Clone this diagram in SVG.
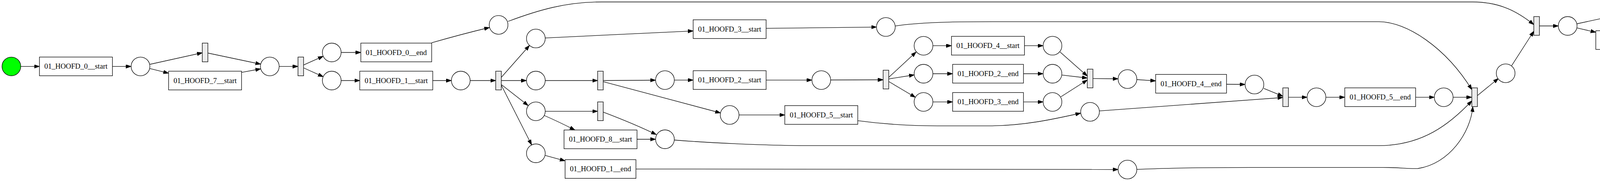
<svg xmlns="http://www.w3.org/2000/svg" width="4693" height="464" viewBox="0 0 4693 464">
<style>
.pl{fill:#fff;stroke:#000;stroke-width:1.33}
.tr{fill:#fff;stroke:#000;stroke-width:1.33}
.si{fill:#ececec;stroke:#000;stroke-width:1.33}
.lb{font-family:"Liberation Serif","Times New Roman",serif;font-size:18.67px;text-anchor:middle;fill:#000}
.e{fill:none;stroke:#000;stroke-width:1.33;marker-end:url(#ah)}
</style>
<defs>
<marker id="ah" markerUnits="userSpaceOnUse" markerWidth="14" markerHeight="10" viewBox="0 0 14 10" refX="13.33" refY="4.67" orient="auto">
<path d="M0,0 L13.33,4.67 L0,9.33 z" fill="#000" stroke="#000" stroke-width="1"/>
</marker>
</defs>
<rect width="4693" height="464" fill="#fff"/>
<g id="edges">
<path class="e" d="M53.1,170.3 L101,170.3"/>
<path class="e" d="M287.8,170.3 L335.7,170.3"/>
<path class="e" d="M383.4,165 L517.8,135.3"/>
<path class="e" d="M383.4,175.7 L431.6,187.7"/>
<path class="e" d="M532.2,136 L667.3,164.5"/>
<path class="e" d="M618.4,185.7 L667.3,176.5"/>
<path class="e" d="M714.7,170.3 L762.8,170.3"/>
<path class="e" d="M777.2,166.7 L827.4,144.2"/>
<path class="e" d="M777.2,174 L827.4,196.7"/>
<path class="e" d="M873.3,134.5 L923.7,134.5"/>
<path class="e" d="M873.3,206.5 L921,206.5"/>
<path class="e" d="M1107.8,206.5 L1155.6,206.5"/>
<path class="e" d="M1105.1,109.7 Q1180,88 1253,70.5"/>
<path class="e" d="M1203.6,206.5 L1269,206.5"/>
<path class="e" d="M1283.4,198.3 L1355.5,116.5"/>
<path class="e" d="M1283.4,206.5 L1347.8,206.5"/>
<path class="e" d="M1283.4,216.7 L1352,270.5"/>
<path class="e" d="M1283.4,218.3 L1361,371.5"/>
<path class="e" d="M1395.5,97.3 L1774.5,79.3"/>
<path class="e" d="M1395.8,206.5 L1529.9,206.5"/>
<path class="e" d="M1544.3,206.5 L1678.3,205.5"/>
<path class="e" d="M1726.3,205.3 L1774.5,205.3"/>
<path class="e" d="M1544.3,209.3 L1844.5,289.5"/>
<path class="e" d="M1395.8,285.3 L1529.9,285.3"/>
<path class="e" d="M1393.2,296 Q1430,312 1471.7,333.3"/>
<path class="e" d="M1544.3,287.3 Q1625,318 1680.2,345"/>
<path class="e" d="M1630.7,357 L1678.3,357"/>
<path class="e" d="M1395.5,398.3 L1446.6,412.3"/>
<path class="e" d="M1961.3,72.7 L2243.9,69.3"/>
<path class="e" d="M1961.3,205.3 L2078.5,205.3"/>
<path class="e" d="M1891.9,294.7 L2009.1,294.7"/>
<path class="e" d="M2126.5,205 L2260.8,204.5"/>
<path class="e" d="M2275.2,198.3 L2345.3,133.3"/>
<path class="e" d="M2275.2,202.3 L2340.5,192"/>
<path class="e" d="M2275.2,209 L2343.4,249.5"/>
<path class="e" d="M2388.2,117.2 L2435.8,117.2"/>
<path class="e" d="M2388.2,189 L2438.7,189"/>
<path class="e" d="M2388.2,261.3 L2438.7,261.3"/>
<path class="e" d="M2622.6,117.2 L2670.4,117.2"/>
<path class="e" d="M2620.1,189 L2670.4,189"/>
<path class="e" d="M2620.1,261.3 L2670.4,261.3"/>
<path class="e" d="M2713.8,133.3 L2783.5,195"/>
<path class="e" d="M2718.4,192.3 L2783.5,200"/>
<path class="e" d="M2715.7,248.3 L2783.5,205"/>
<path class="e" d="M2797.9,201.3 L2862.4,202"/>
<path class="e" d="M2910,204 L2958.5,207.3"/>
<path class="e" d="M3139.9,216 L3187.4,216.5"/>
<path class="e" d="M3235.3,226.7 L3284,246.7"/>
<path class="e" d="M2814.4,284.3 L3284,250"/>
<path class="e" d="M3298.4,249.3 L3346.2,249.3"/>
<path class="e" d="M3394.2,249.3 L3442.6,249.3"/>
<path class="e" d="M3624,249.3 L3671.9,249.3"/>
<path class="e" d="M3719.9,249.3 L3767.8,249.3"/>
<path class="e" d="M3782.2,245 L3836,201"/>
<path class="e" d="M3869.8,168.3 L3926.5,80"/>
<path class="e" d="M3940.9,66.5 L3989.3,66.5"/>
<path class="e" d="M4037,61 L4169.1,32.3"/>
<path class="e" d="M4037,71.7 L4085.3,82.7"/>
<path class="e" d="M4183.5,32.3 L4315.5,61.7"/>
<path class="e" d="M4266.7,81.7 L4315,71"/>
<path class="e" d="M4362.7,61 L4493.8,31.7"/>
<path class="e" d="M4362.7,71.7 L4410.6,81.7"/>
<path class="e" d="M4508.2,32.3 L4640.5,61.7"/>
<path class="e" d="M4592,81.7 L4640.5,71.7"/>
<path class="e" d="M1300.3,55 C1380,25 1450,5 1540,5 L3770,5 C3840,5 3885,30 3926.5,63"/>
<path class="e" d="M2291.7,66.7 C2350,58 2420,55.7 2540,55.7 L3530,55.7 C3600,55.7 3700,120 3768,230"/>
<path class="e" d="M1726.2,359 C1800,365 1950,373.3 2070,373.3 L3530,373.3 C3640,373.3 3710,320 3768,258.3"/>
<path class="e" d="M2196.1,309.3 C2260,318 2330,322.7 2400,322.7 L2530,322.7 C2620,322.7 2700,305 2766.6,290"/>
<path class="e" d="M1627.8,433.3 L2862.4,434.5"/>
<path class="e" d="M2910,434.3 C3000,430 3100,429.3 3200,429.3 L3540,429.3 C3590,429.3 3600,433 3630,432 C3710,420 3765,340 3770.3,273.3"/>
</g>
<g id="p_source"><circle cx="29.1" cy="170.3" r="24" fill="#00ff00" stroke="#000" stroke-width="1.33"/></g>
<g id="p1"><circle class="pl" cx="359.7" cy="170.3" r="24"/></g>
<g id="p2"><circle class="pl" cx="690.7" cy="170.3" r="24"/></g>
<g id="p3"><circle class="pl" cx="849.3" cy="134.5" r="24"/></g>
<g id="p4"><circle class="pl" cx="849.3" cy="206.5" r="24"/></g>
<g id="p5"><circle class="pl" cx="1179.6" cy="206.5" r="24"/></g>
<g id="p6"><circle class="pl" cx="1276.4" cy="63.8" r="24"/></g>
<g id="p7"><circle class="pl" cx="1371.8" cy="98.7" r="24"/></g>
<g id="p8"><circle class="pl" cx="1371.8" cy="206.5" r="24"/></g>
<g id="p11"><circle class="pl" cx="1371.8" cy="285.3" r="24"/></g>
<g id="p13"><circle class="pl" cx="1371.8" cy="393" r="24"/></g>
<g id="p9"><circle class="pl" cx="1702.3" cy="205.3" r="24"/></g>
<g id="p12"><circle class="pl" cx="1702.3" cy="357" r="24"/></g>
<g id="p10"><circle class="pl" cx="1867.9" cy="294.7" r="24"/></g>
<g id="p15"><circle class="pl" cx="2102.5" cy="205.3" r="24"/></g>
<g id="p14"><circle class="pl" cx="2267.8" cy="69.2" r="24"/></g>
<g id="p16"><circle class="pl" cx="2364.2" cy="117.3" r="24"/></g>
<g id="p17"><circle class="pl" cx="2364.2" cy="189" r="24"/></g>
<g id="p18"><circle class="pl" cx="2364.2" cy="261.3" r="24"/></g>
<g id="pc"><circle class="pl" cx="2694.4" cy="117.2" r="24"/></g>
<g id="pd"><circle class="pl" cx="2694.4" cy="189" r="24"/></g>
<g id="pe"><circle class="pl" cx="2694.4" cy="261.3" r="24"/></g>
<g id="pg"><circle class="pl" cx="2790.5" cy="286.7" r="24"/></g>
<g id="pf"><circle class="pl" cx="2886.3" cy="202.7" r="24"/></g>
<g id="p20"><circle class="pl" cx="2886.3" cy="434.7" r="24"/></g>
<g id="pa"><circle class="pl" cx="3211.4" cy="216.7" r="24"/></g>
<g id="pb"><circle class="pl" cx="3370.2" cy="249.3" r="24"/></g>
<g id="pr"><circle class="pl" cx="3695.9" cy="249.3" r="24"/></g>
<g id="ppre"><circle class="pl" cx="3854.5" cy="187.8" r="24"/></g>
<g id="pmid"><circle class="pl" cx="4013.3" cy="66.5" r="24"/></g>
<g id="plast"><circle class="pl" cx="4338.7" cy="66.5" r="24"/></g>
<g id="p_sink"><circle cx="4664.2" cy="66.5" r="24" fill="#ff0000" stroke="#000" stroke-width="1.33"/></g>
<g id="t_0_start"><rect class="tr" x="101" y="146.3" width="186.8" height="48"/><text class="lb" x="194.4" y="176.3">01_HOOFD_0__start</text></g>
<g id="t_7_start"><rect class="tr" x="431.6" y="182.5" width="186.8" height="48"/><text class="lb" x="525" y="212.5">01_HOOFD_7__start</text></g>
<g id="t_0_end"><rect class="tr" x="923.7" y="110.5" width="181.4" height="48"/><text class="lb" x="1014.4" y="140.5">01_HOOFD_0__end</text></g>
<g id="t_1_start"><rect class="tr" x="921" y="182.5" width="186.8" height="48"/><text class="lb" x="1014.4" y="212.5">01_HOOFD_1__start</text></g>
<g id="t_3_start"><rect class="tr" x="1774.5" y="50.7" width="186.8" height="48"/><text class="lb" x="1867.9" y="80.7">01_HOOFD_3__start</text></g>
<g id="t_2_start"><rect class="tr" x="1774.5" y="181.3" width="186.8" height="48"/><text class="lb" x="1867.9" y="211.3">01_HOOFD_2__start</text></g>
<g id="t_8_start"><rect class="tr" x="1443.9" y="333.3" width="186.8" height="48"/><text class="lb" x="1537.3" y="363.3">01_HOOFD_8__start</text></g>
<g id="t_1_end"><rect class="tr" x="1446.6" y="409.3" width="181.4" height="48"/><text class="lb" x="1537.3" y="439.3">01_HOOFD_1__end</text></g>
<g id="t_5_start"><rect class="tr" x="2009.1" y="270.7" width="186.8" height="48"/><text class="lb" x="2102.5" y="300.7">01_HOOFD_5__start</text></g>
<g id="t_4_start"><rect class="tr" x="2435.8" y="93.2" width="186.8" height="48"/><text class="lb" x="2529.2" y="123.2">01_HOOFD_4__start</text></g>
<g id="t_2_end"><rect class="tr" x="2438.7" y="165" width="181.4" height="48"/><text class="lb" x="2529.4" y="195">01_HOOFD_2__end</text></g>
<g id="t_3_end"><rect class="tr" x="2438.7" y="237.3" width="181.4" height="48"/><text class="lb" x="2529.4" y="267.3">01_HOOFD_3__end</text></g>
<g id="t_4_end"><rect class="tr" x="2958.5" y="190.7" width="181.4" height="48"/><text class="lb" x="3049.2" y="220.7">01_HOOFD_4__end</text></g>
<g id="t_5_end"><rect class="tr" x="3442.6" y="225.3" width="181.4" height="48"/><text class="lb" x="3533.3" y="255.3">01_HOOFD_5__end</text></g>
<g id="t_7_end"><rect class="tr" x="4085.3" y="78.7" width="181.4" height="48"/><text class="lb" x="4176" y="108.7">01_HOOFD_7__end</text></g>
<g id="t_8_end"><rect class="tr" x="4410.6" y="78.7" width="181.4" height="48"/><text class="lb" x="4501.3" y="108.7">01_HOOFD_8__end</text></g>
<g id="s1"><rect class="si" x="517.8" y="110.5" width="14.4" height="48"/></g>
<g id="s2"><rect class="si" x="762.8" y="146.3" width="14.4" height="48"/></g>
<g id="s3"><rect class="si" x="1269" y="182.5" width="14.4" height="48"/></g>
<g id="s4"><rect class="si" x="1529.9" y="182.5" width="14.4" height="48"/></g>
<g id="s5"><rect class="si" x="1529.9" y="261.3" width="14.4" height="48"/></g>
<g id="s6"><rect class="si" x="2260.8" y="180" width="14.4" height="48"/></g>
<g id="s8"><rect class="si" x="2783.5" y="177.3" width="14.4" height="48"/></g>
<g id="s7"><rect class="si" x="3284" y="225.3" width="14.4" height="48"/></g>
<g id="s_join"><rect class="si" x="3767.8" y="225.3" width="14.4" height="48"/></g>
<g id="s_collect"><rect class="si" x="3926.5" y="42.5" width="14.4" height="48"/></g>
<g id="s_top1"><rect class="si" x="4169.1" y="6.2" width="14.4" height="48"/></g>
<g id="s_top2"><rect class="si" x="4493.8" y="6.2" width="14.4" height="48"/></g>
</svg>
